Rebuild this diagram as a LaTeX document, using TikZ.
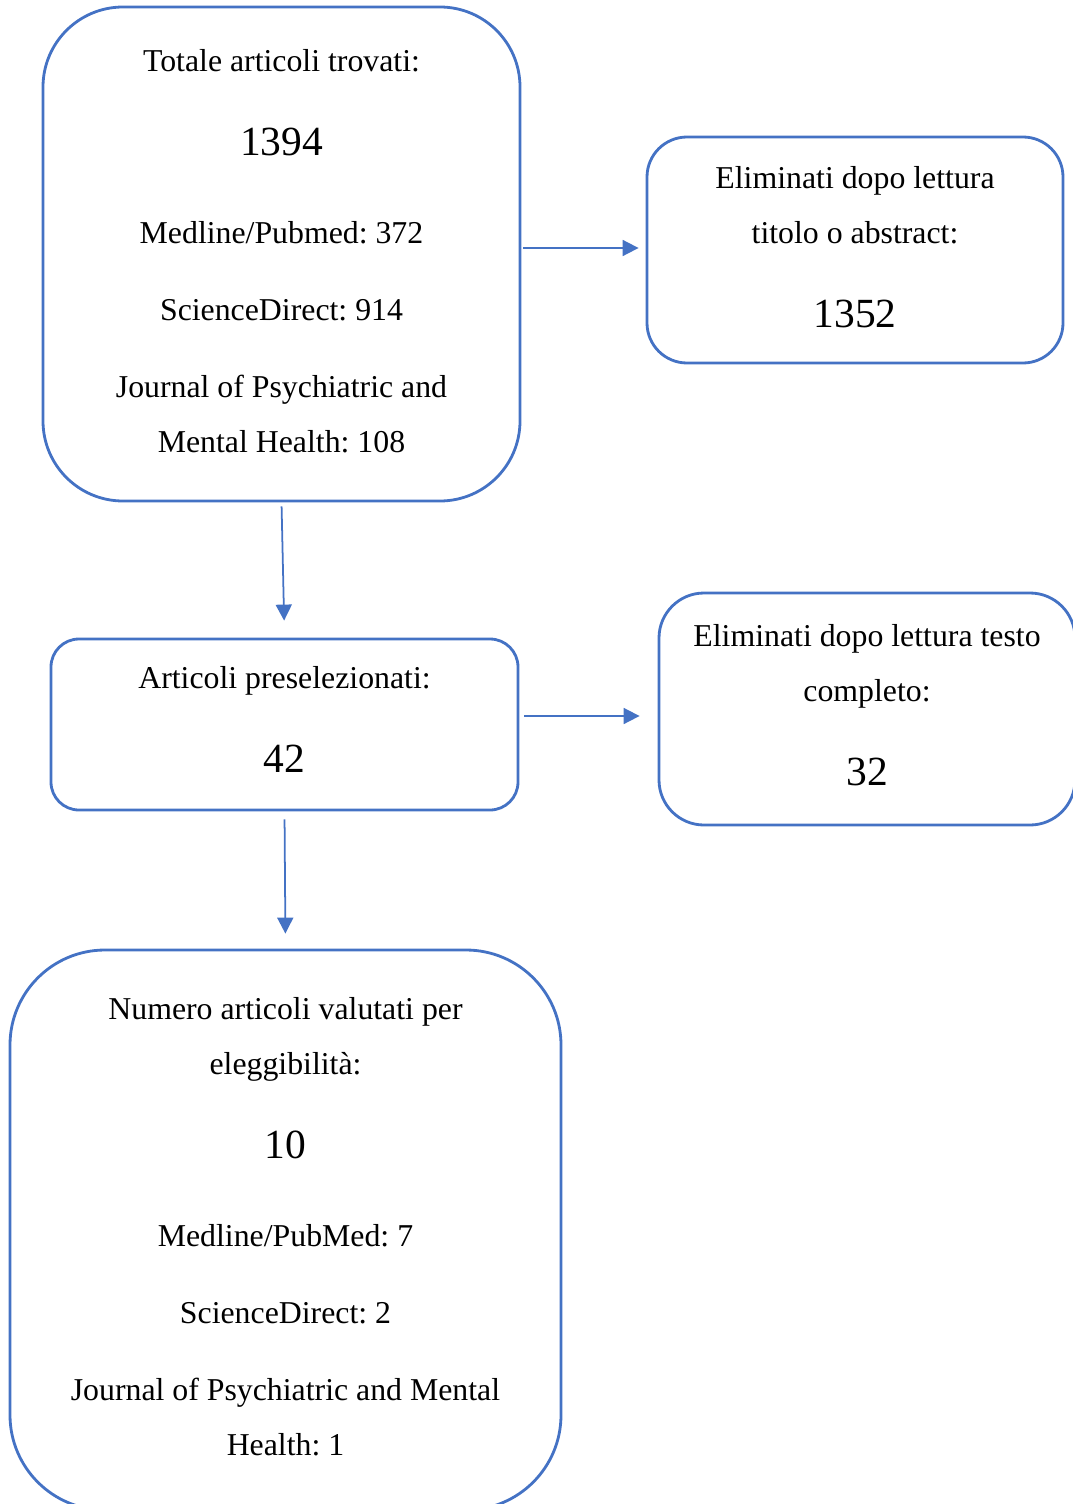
\documentclass[tikz,border=0pt]{standalone}
\usepackage{fontspec}
\setmainfont{Liberation Serif}
\usetikzlibrary{arrows.meta,positioning}
\definecolor{wordblue}{HTML}{4472C4}
\newcommand{\bignum}[1]{{\fontsize{23.6}{31.3}\selectfont #1}}

\begin{document}
\frenchspacing
\begin{tikzpicture}[
  box/.style={draw=wordblue,line width=1.6pt,align=center,inner sep=0pt,font=\fontsize{18.1}{31.3}\selectfont},
  arr/.style={-{Triangle[length=0.32cm,width=0.32cm]},wordblue,line width=1pt}]
  \useasboundingbox (0,0) rectangle (21.44,-30.08);
  \node[box,minimum width=9.54cm,minimum height=9.88cm,rounded corners=1.6cm,text depth=0.12cm] (A) at (5.63,-5.08)
    {Totale articoli trovati:\\[16.5pt]\bignum{1394}\\[18.8pt]Medline/Pubmed: 372\\[12.5pt]ScienceDirect: 914\\[12.5pt]Journal of Psychiatric and\\Mental Health: 108};
  \node[box,minimum width=8.32cm,minimum height=4.52cm,rounded corners=0.8cm,text depth=0.12cm] (B) at (17.10,-5.00)
    {Eliminati dopo lettura\\titolo o abstract:\\[16.5pt]\bignum{1352}};
  \node[box,minimum width=9.34cm,minimum height=3.42cm,rounded corners=0.56cm,text depth=0.2cm] (C) at (5.69,-14.49)
    {Articoli preselezionati:\\[16.5pt]\bignum{42}};
  \node[box,minimum width=8.32cm,minimum height=4.64cm,rounded corners=0.9cm,text depth=0.16cm] (D) at (17.34,-14.18)
    {Eliminati dopo lettura testo\\completo:\\[16.5pt]\bignum{32}};
  \node[box,minimum width=11.02cm,minimum height=11.2cm,rounded corners=1.9cm,text depth=0.16cm] (E) at (5.71,-24.6)
    {Numero articoli valutati per\\eleggibilità:\\[16.5pt]\bignum{10}\\[18.8pt]Medline/PubMed: 7\\[12.5pt]ScienceDirect: 2\\[12.5pt]Journal of Psychiatric and Mental\\Health: 1};
  \draw[arr,shorten <=0.04cm,shorten >=0.14cm] ([yshift=0.12cm]A.east) -- ([yshift=0.12cm]A.east -| B.west);
  \draw[arr,shorten <=0.08cm,shorten >=0.34cm] (A.south) -- (C.north);
  \draw[arr,shorten <=0.1cm,shorten >=0.36cm] ([yshift=0.17cm]C.east) -- ([yshift=0.17cm]C.east -| D.west);
  \draw[arr,shorten <=0.16cm,shorten >=0.3cm] (C.south) -- (E.north);
\end{tikzpicture}
\end{document}
